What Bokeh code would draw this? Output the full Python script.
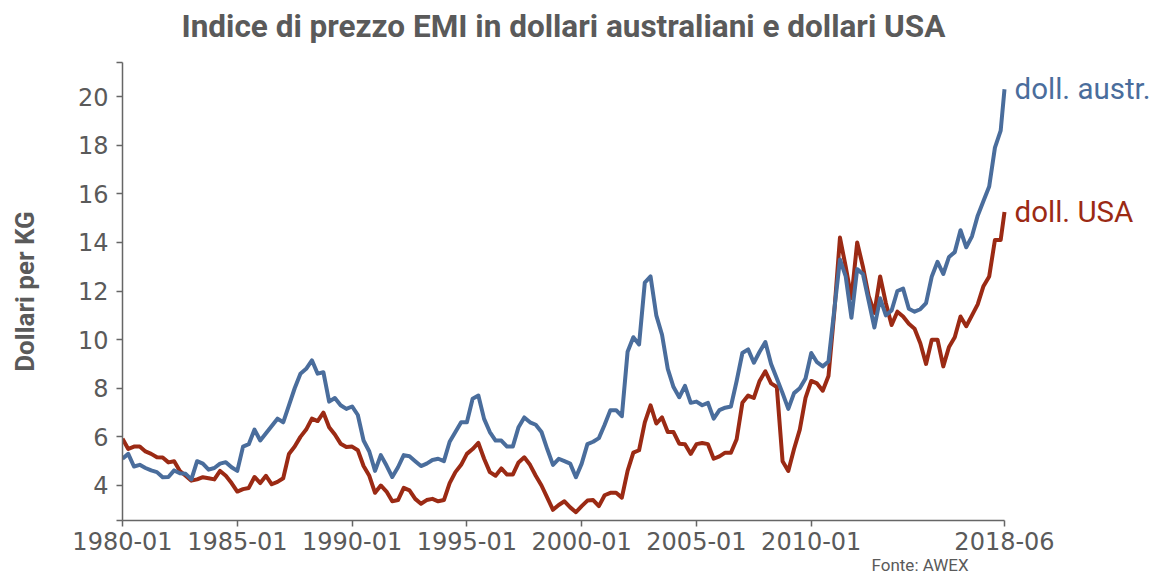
from bokeh.plotting import figure
from bokeh.models import FixedTicker, ColumnDataSource, Range1d, Title
from bokeh.core.properties import value
from bokeh.embed import file_html
from bokeh.resources import INLINE

# quarterly sampling (month index from 1980-01), last point 2018-06
months = list(range(0, 460, 3)) + [461]

aud = [5.1, 5.3, 4.78, 4.85, 4.72, 4.62, 4.55, 4.34, 4.35, 4.62,
       4.5, 4.48, 4.25, 5.0, 4.9, 4.65, 4.72, 4.9, 4.96, 4.75,
       4.6, 5.6, 5.7, 6.3, 5.85, 6.15, 6.45, 6.75, 6.6, 7.3,
       8.0, 8.6, 8.8, 9.15, 8.6, 8.66, 7.45, 7.6, 7.3, 7.15,
       7.25, 6.9, 5.85, 5.4, 4.6, 5.25, 4.82, 4.35, 4.75, 5.25,
       5.2, 5.0, 4.8, 4.9, 5.05, 5.1, 5.0, 5.8, 6.2, 6.6,
       6.6, 7.57, 7.7, 6.74, 6.2, 5.85, 5.85, 5.6, 5.6, 6.4,
       6.8, 6.6, 6.5, 6.2, 5.5, 4.85, 5.1, 5.0, 4.9, 4.34,
       4.9, 5.7, 5.8, 5.95, 6.5, 7.1, 7.1, 6.85, 9.5, 10.1,
       9.8, 12.35, 12.6, 11.0, 10.2, 8.8, 8.05, 7.63, 8.1, 7.4,
       7.45, 7.3, 7.4, 6.75, 7.1, 7.2, 7.25, 8.3, 9.45, 9.6,
       9.05, 9.5, 9.9, 9.0, 8.4, 7.8, 7.15, 7.8, 8.0, 8.4,
       9.45, 9.07, 8.9, 9.1, 11.2, 13.3, 12.6, 10.9, 12.9, 12.7,
       11.6, 10.5, 11.7, 11.0, 11.2, 12.0, 12.1, 11.27, 11.15, 11.25,
       11.5, 12.6, 13.2, 12.7, 13.4, 13.6, 14.5, 13.8, 14.25, 15.1,
       15.7, 16.3, 17.9, 18.6, 20.3]

usd = [5.92, 5.5, 5.6, 5.6, 5.4, 5.3, 5.16, 5.15, 4.95, 5.0,
       4.6, 4.4, 4.2, 4.25, 4.34, 4.3, 4.25, 4.6, 4.4, 4.1,
       3.75, 3.85, 3.9, 4.35, 4.1, 4.4, 4.05, 4.15, 4.3, 5.3,
       5.6, 6.0, 6.3, 6.75, 6.65, 7.0, 6.4, 6.1, 5.72, 5.58,
       5.6, 5.45, 4.8, 4.4, 3.7, 4.0, 3.75, 3.35, 3.4, 3.9,
       3.8, 3.45, 3.25, 3.4, 3.45, 3.35, 3.4, 4.1, 4.55, 4.85,
       5.3, 5.5, 5.75, 5.1, 4.55, 4.4, 4.7, 4.45, 4.45, 4.95,
       5.16, 4.85, 4.4, 4.0, 3.5, 3.0, 3.2, 3.35, 3.1, 2.9,
       3.15, 3.38, 3.4, 3.15, 3.6, 3.7, 3.7, 3.5, 4.6, 5.35,
       5.45, 6.6, 7.3, 6.55, 6.8, 6.2, 6.2, 5.72, 5.7, 5.3,
       5.7, 5.75, 5.7, 5.1, 5.2, 5.35, 5.35, 5.9, 7.4, 7.7,
       7.6, 8.3, 8.7, 8.2, 8.05, 5.0, 4.6, 5.5, 6.3, 7.6,
       8.3, 8.2, 7.9, 8.5, 11.1, 14.2, 13.0, 11.7, 14.0, 13.0,
       11.8, 11.1, 12.6, 11.5, 10.6, 11.15, 10.95, 10.65, 10.45, 9.85,
       9.0, 10.0, 10.0, 8.9, 9.7, 10.1, 10.95, 10.55, 11.0, 11.45,
       12.2, 12.6, 14.1, 14.1, 15.25]

series_names = ["doll. austr.", "doll. USA"]

tick_months = [0, 60, 120, 180, 240, 300, 360, 461]
tick_labels = ["1980-01", "1985-01", "1990-01", "1995-01", "2000-01",
               "2005-01", "2010-01", "2018-06"]
y_ticks = [4, 6, 8, 10, 12, 14, 16, 18, 20]
y_lo, y_hi = 2.56, 21.4

BLUE = "#4a6d9c"
RED = "#9b2a14"
GRAY = "#5a5a5a"

src = ColumnDataSource(dict(m=months, aud=aud, usd=usd))

# frame extends to the right edge so the end labels fit; the axis is bounded
x_end = months[-1]
x_max = x_end * 1030 / 882

p = figure(title=None, frame_width=1030, frame_height=458,
           min_border_left=122, min_border_right=0,
           min_border_top=62, min_border_bottom=62,
           x_range=Range1d(0, x_max), y_range=Range1d(y_lo, y_hi),
           output_backend="svg", toolbar_location=None,
           background_fill_color="white", border_fill_color="white",
           outline_line_color=None)

# blank spacer (closest to the frame), then the title above it
spacer = Title(text=" ", text_font="Roboto", text_font_size="8px",
               text_color="white", standoff=7)
main_title = Title(text="Indice di prezzo EMI in dollari australiani e dollari USA",
                   align="left", offset=59, standoff=0,
                   text_font="Roboto", text_font_size="31.5px",
                   text_font_style="bold", text_color=GRAY)
p.add_layout(spacer, "above")
p.add_layout(main_title, "above")

p.line("m", "usd", source=src, color=RED, line_width=4, line_join="round")
p.line("m", "aud", source=src, color=BLUE, line_width=4, line_join="round")

p.text(x=[x_end], y=[aud[-1]], text=[series_names[0]], x_offset=10,
       text_baseline="middle", text_font=value("Roboto"),
       text_font_size="29.5px", text_color=BLUE)
p.text(x=[x_end], y=[usd[-1]], text=[series_names[1]], x_offset=10,
       text_baseline="middle", text_font=value("Roboto"),
       text_font_size="29.5px", text_color=RED)

p.xgrid.grid_line_color = None
p.ygrid.grid_line_color = None

p.xaxis.ticker = FixedTicker(ticks=tick_months)
p.xaxis.major_label_overrides = {k: v for k, v in zip(tick_months, tick_labels)}
p.xaxis.bounds = (0, x_end)

# outer ticks at both ends of the y axis (unlabelled)
y_outer = [y_lo + 0.02, y_hi - 0.02]
p.yaxis.ticker = FixedTicker(ticks=y_ticks + y_outer)
p.yaxis.major_label_overrides = {t: "" for t in y_outer}

for ax in (p.xaxis[0], p.yaxis[0]):
    ax.axis_line_color = "#666666"
    ax.axis_line_width = 1.5
    ax.major_tick_line_color = "#666666"
    ax.major_tick_line_width = 1.5
    ax.major_tick_out = 6
    ax.major_tick_in = 0
    ax.minor_tick_line_color = None
    ax.major_label_text_font = "DejaVu Sans"
    ax.major_label_text_font_size = "24px"
    ax.major_label_text_color = GRAY

p.yaxis.major_label_standoff = 8
p.xaxis.major_label_standoff = 5
p.yaxis.axis_label = "Dollari per KG"
p.yaxis.axis_label_text_font = "Roboto"
p.yaxis.axis_label_text_font_size = "26px"
p.yaxis.axis_label_text_font_style = "bold"
p.yaxis.axis_label_text_color = GRAY
p.yaxis.axis_label_standoff = 35

src_title = Title(text="Fonte: AWEX", align="left", offset=749, standoff=0,
                  text_font="Roboto", text_font_size="17px",
                  text_font_style="normal", text_color=GRAY)
p.add_layout(src_title, "below")

open("out.html", "w").write(file_html(p, INLINE))
